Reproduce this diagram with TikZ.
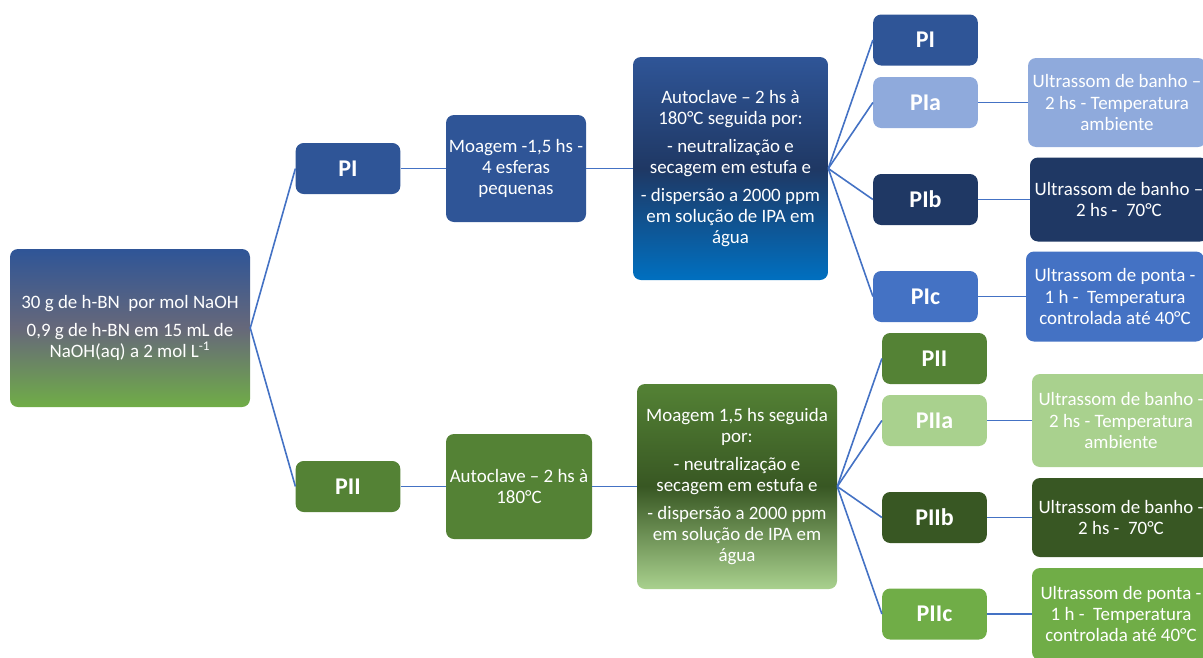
\documentclass[tikz,border=0pt]{standalone}
\usepackage{fontspec}
\setmainfont{Carlito}
\definecolor{pblue}{HTML}{2F5597}
\definecolor{lblue}{HTML}{8FAADC}
\definecolor{dblue}{HTML}{1F3864}
\definecolor{mblue}{HTML}{4472C4}
\definecolor{sblue}{HTML}{0070C0}
\definecolor{pgreen}{HTML}{548235}
\definecolor{lgreen}{HTML}{A9D18E}
\definecolor{dgreen}{HTML}{385723}
\definecolor{mgreen}{HTML}{70AD47}
\definecolor{rootmid}{HTML}{66687A}
\definecolor{linecol}{HTML}{4472C4}
\begin{document}
\begin{tikzpicture}[x=0.75pt,y=-0.75pt,
    box/.style={rounded corners=6pt, text=white, align=center, inner sep=2pt,
      font=\fontsize{14.2}{15.9}\selectfont},
    tag/.style={box, minimum width=78.5pt, minimum height=38.25pt,
      font=\fontsize{18}{21}\selectfont\bfseries},
    ultra/.style={box, minimum width=133.5pt},
    conn/.style={draw=linecol, line width=1.2pt}]
    \useasboundingbox (0,0) rectangle (1203,657);
    % root and first split
    \node[box, minimum width=180pt, minimum height=118.5pt,
      top color=pblue, bottom color=mgreen, middle color=rootmid] (root) at (130,328)
      {30 g de h-BN\ \ por mol NaOH\\[5pt]0,9 g de h-BN em 15 mL de\\NaOH(aq) a 2 mol L\textsuperscript{-1}};
    \node[tag, fill=pblue] (pI) at (348,168.5) {PI};
    \node[tag, fill=pgreen] (pII) at (348,486.5) {PII};
    \node[box, fill=pblue, minimum width=105pt, minimum height=80.25pt] (moagem) at (516,168.5)
      {Moagem -1,5 hs -\\4 esferas\\pequenas};
    \node[box, fill=pgreen, minimum width=109.5pt, minimum height=78.75pt] (autoclave) at (519,486.5)
      {Autoclave – 2 hs à\\180°C};
    % treatments
    \node[box, minimum width=146.25pt, minimum height=167.25pt,
      top color=pblue, bottom color=sblue, middle color=dblue] (tratI) at (730.5,168.5)
      {Autoclave – 2 hs à\\180°C seguida por:\\[5pt]- neutralização e\\secagem em estufa e\\[5pt]- dispersão a 2000 ppm\\em solução de IPA em\\água};
    \node[box, minimum width=150pt, minimum height=153.75pt,
      top color=pgreen, bottom color=lgreen, middle color=dgreen] (tratII) at (737,486.5)
      {Moagem 1,5 hs seguida\\por:\\[5pt]- neutralização e\\secagem em estufa e\\[5pt]- dispersão a 2000 ppm\\em solução de IPA em\\água};
    % samples
    \node[tag, fill=pblue] (pI0) at (925.5,40) {PI};
    \node[tag, fill=lblue] (pIa) at (925.5,102.5) {PIa};
    \node[tag, fill=dblue] (pIb) at (925.5,199.5) {PIb};
    \node[tag, fill=mblue] (pIc) at (925.5,296.5) {PIc};
    \node[tag, fill=pgreen] (pII0) at (934.5,358.5) {PII};
    \node[tag, fill=lgreen] (pIIa) at (934.5,420.5) {PIIa};
    \node[tag, fill=dgreen] (pIIb) at (934.5,517.5) {PIIb};
    \node[tag, fill=mgreen] (pIIc) at (934.5,614) {PIIc};
    % ultrasound
    \node[ultra, fill=lblue, minimum height=66.75pt] (uIa) at (1117,102.5)
      {Ultrassom de banho –\\2 hs - Temperatura\\ambiente};
    \node[ultra, fill=dblue, minimum height=63pt] (uIb) at (1119,199.5)
      {Ultrassom de banho –\\2 hs -\ \ 70°C};
    \node[ultra, fill=mblue, minimum height=67.5pt] (uIc) at (1115,296.5)
      {Ultrassom de ponta -\\1 h -\ \ Temperatura\\controlada até 40°C};
    \node[ultra, fill=lgreen, minimum height=69.75pt] (uIIa) at (1121,420.5)
      {Ultrassom de banho -\\2 hs - Temperatura\\ambiente};
    \node[ultra, fill=dgreen, minimum height=59.25pt] (uIIb) at (1121,517.5)
      {Ultrassom de banho -\\2 hs -\ \ 70°C};
    \node[ultra, fill=mgreen, minimum height=69pt] (uIIc) at (1121,614)
      {Ultrassom de ponta -\\1 h -\ \ Temperatura\\controlada até 40°C};
    \path[conn]
      (root.east) edge (pI.west)
      (root.east) edge (pII.west)
      (pI) edge (moagem)
      (moagem) edge (tratI)
      (pII) edge (autoclave)
      (autoclave) edge (tratII)
      (tratI.east) edge (pI0.west)
      (tratI.east) edge (pIa.west)
      (tratI.east) edge (pIb.west)
      (tratI.east) edge (pIc.west)
      (tratII.east) edge (pII0.west)
      (tratII.east) edge (pIIa.west)
      (tratII.east) edge (pIIb.west)
      (tratII.east) edge (pIIc.west)
      (pIa) edge (uIa)
      (pIb) edge (uIb)
      (pIc) edge (uIc)
      (pIIa) edge (uIIa)
      (pIIb) edge (uIIb)
      (pIIc) edge (uIIc);
\end{tikzpicture}
\end{document}
